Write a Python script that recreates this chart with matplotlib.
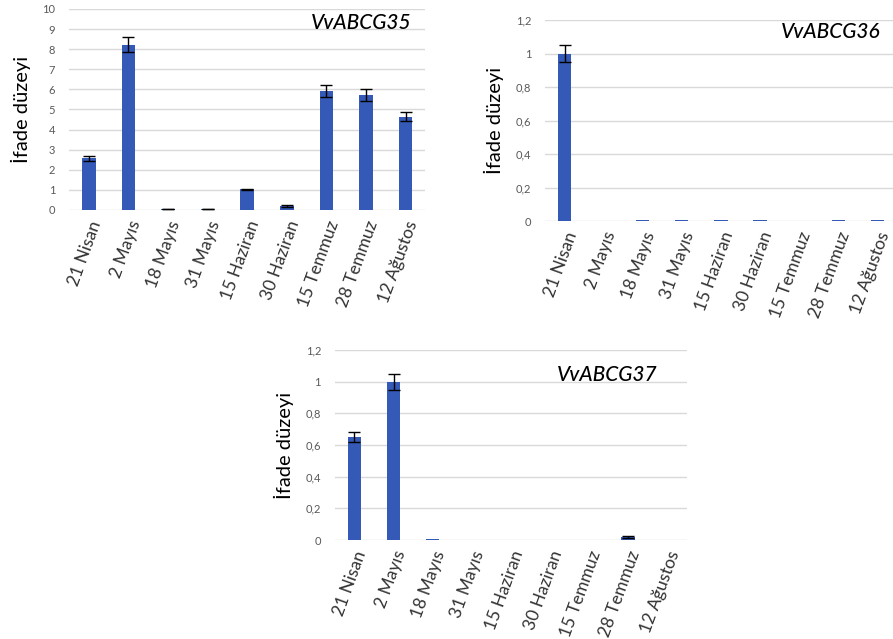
import matplotlib.pyplot as plt
import numpy as np

dates = ["21 Nisan", "2 Mayıs", "18 Mayıs", "31 Mayıs", "15 Haziran",
         "30 Haziran", "15 Temmuz", "28 Temmuz", "12 Ağustos"]

g35 = [2.57, 8.22, 0.05, 0.05, 1.02, 0.20, 5.92, 5.72, 4.63]
g35_err = [0.12, 0.38, 0.01, 0.01, 0.03, 0.04, 0.30, 0.30, 0.22]
g36 = [1.0, 0.0, 0.004, 0.004, 0.004, 0.004, 0.0, 0.004, 0.004]
g36_err = [0.05, 0, 0, 0, 0, 0, 0, 0, 0]
g37 = [0.65, 1.0, 0.004, 0.0, 0.0, 0.0, 0.0, 0.02, 0.0]
g37_err = [0.03, 0.05, 0, 0, 0, 0, 0, 0.005, 0]

plt.rcParams["font.family"] = ["Lato", "DejaVu Sans"]
BLUE = "#3559b6"


def draw(ax, vals, errs, ymax, step, title, tx, ty, comma=True):
    x = np.arange(len(dates))
    ax.bar(x, vals, width=0.34, color=BLUE, zorder=3)
    for xi, v, e in zip(x, vals, errs):
        if e > 0:
            ax.errorbar(xi, v, yerr=e, color="black", capsize=4,
                        elinewidth=1, capthick=1, zorder=4)
    ax.set_xlim(-0.5, len(dates) - 0.5)
    ax.set_ylim(0, ymax)
    ticks = np.arange(0, ymax + step / 2, step)
    ax.set_yticks(ticks)
    if comma:
        ax.set_yticklabels([f"{t:g}".replace(".", ",") for t in ticks])
    ax.yaxis.grid(True, color="#d9d9d9", linewidth=1, zorder=0)
    for s in ax.spines.values():
        s.set_visible(False)
    ax.tick_params(axis="both", length=0)
    ax.tick_params(axis="y", labelsize=8, labelcolor="#595959", pad=10)
    ax.set_xticks(x)
    ax.set_xticklabels(dates, rotation=70, ha="right", rotation_mode="anchor",
                       fontsize=12.5, color="#333333")
    ax.tick_params(axis="x", pad=6)
    ax.set_ylabel("İfade düzeyi", fontsize=14.5, color="black")
    ax.text(tx, ty, title, transform=ax.transAxes, fontsize=15,
            style="italic", weight="medium", ha="left", va="center",
            color="black")


fig = plt.figure(figsize=(8.93, 6.39), dpi=100)
ax1 = fig.add_axes([0.0773, 0.6714, 0.399, 0.3146])
ax2 = fig.add_axes([0.6103, 0.654, 0.394, 0.3146])
ax3 = fig.add_axes([0.375, 0.1549, 0.394, 0.2974])

draw(ax1, g35, g35_err, 10, 1, "VvABCG35", 0.68, 0.93, comma=False)
draw(ax2, g36, g36_err, 1.2, 0.2, "VvABCG36", 0.67, 0.94)
draw(ax3, g37, g37_err, 1.2, 0.2, "VvABCG37", 0.63, 0.87)

ax1.yaxis.labelpad = 8
ax2.yaxis.labelpad = 8
ax3.yaxis.labelpad = 8

fig.savefig("out.png", dpi=100)
